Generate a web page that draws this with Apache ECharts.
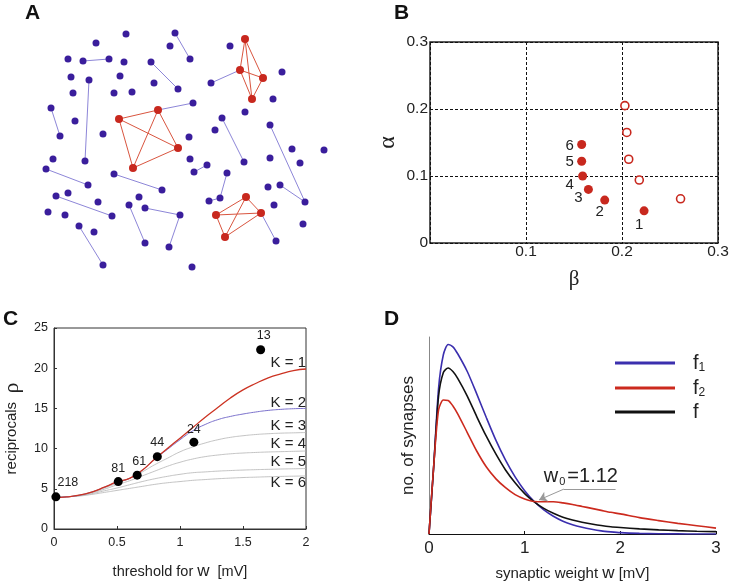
<!DOCTYPE html>
<html>
<head>
<meta charset="utf-8">
<script src="https://cdn.jsdelivr.net/npm/echarts@6/dist/echarts.min.js"></script>
<style>
  html, body { margin: 0; padding: 0; background: #fff; }
  #main { width: 734px; height: 584px; }
</style>
</head>
<body>
<div id="main"></div>
<script>
// ---- A: network (node positions in panel units) ----
var blueNodes = [
  [126,34],[175,33],[96,43],[170,46],[230,46],[68,59],[83,61],[109,59],[124,62],[151,62],
  [190,59],[71,77],[89,80],[120,76],[154,83],[178,89],[211,83],[282,72],[73,93],[114,93],
  [132,92],[193,103],[273,99],[51,108],[245,112],[75,121],[222,118],[270,125],[60,136],[103,134],
  [189,137],[215,130],[292,149],[324,150],[53,159],[85,161],[190,159],[207,165],[194,172],[244,162],
  [270,158],[300,163],[46,169],[114,174],[227,173],[88,185],[162,190],[268,187],[280,185],[56,196],
  [68,193],[98,202],[139,197],[209,201],[220,198],[305,202],[274,205],[129,205],[145,208],[48,212],
  [65,215],[112,216],[180,215],[303,224],[79,226],[94,232],[145,243],[169,247],[276,241],[103,265],
  [192,267]
];
var redNodes = [
  [245,39],[240,70],[263,78],[252,99],
  [119,119],[158,110],[178,148],[133,168],
  [246,197],[216,215],[261,213],[225,237]
];
var blueLinks = [
  ['b1','b10'],['b6','b7'],['b9','b15'],['b12','b35'],['b16','r1'],['r5','b21'],
  ['b23','b28'],['b26','b39'],['b27','b55'],['b48','b55'],['b42','b45'],['b43','b46'],
  ['b38','b37'],['b44','b54'],['b53','b54'],['b49','b61'],['b58','b62'],['b62','b67'],
  ['b57','b66'],['b64','b69'],['r10','b68']
];
var redLinks = [
  ['r0','r1'],['r0','r2'],['r0','r3'],['r1','r2'],['r1','r3'],['r2','r3'],
  ['r4','r5'],['r4','r6'],['r4','r7'],['r5','r6'],['r5','r7'],['r6','r7'],
  ['r8','r9'],['r8','r10'],['r8','r11'],['r9','r10'],['r9','r11'],['r10','r11']
];

// ---- B ----
var betaFilled  = [0.223, 0.182, 0.165, 0.159, 0.158, 0.158];
var alphaFilled = [0.048, 0.064, 0.080, 0.100, 0.122, 0.147];
var filledLabels = ['1', '2', '3', '4', '5', '6'];
var betaOpen  = [0.261, 0.218, 0.207, 0.205, 0.203];
var alphaOpen = [0.066, 0.094, 0.125, 0.165, 0.205];

// ---- C ----
var thrX = [0,0.1,0.2,0.3,0.4,0.5,0.6,0.7,0.8,0.9,1.0,1.1,1.2,1.3,1.4,1.5,1.6,1.7,1.8,1.9,2.0];
var rhoK1 = [3.9,4.0,4.2,4.6,5.2,5.85,6.3,7.3,8.7,10.0,11.3,12.6,13.9,15.1,16.3,17.3,18.1,18.8,19.3,19.7,19.9];
var rhoK2 = [3.9,4.0,4.2,4.6,5.2,5.85,6.3,7.3,8.7,9.9,11.1,12.2,13.0,13.6,14.0,14.3,14.55,14.75,14.88,14.96,15.0];
var rhoK3 = [3.9,4.0,4.2,4.6,5.1,5.7,6.3,7.1,8.0,8.8,9.6,10.2,10.7,11.1,11.4,11.6,11.75,11.85,11.92,11.96,12.0];
var rhoK4 = [3.9,4.0,4.15,4.5,4.95,5.5,6.0,6.6,7.2,7.8,8.3,8.7,9.0,9.2,9.35,9.45,9.52,9.58,9.62,9.66,9.7];
var rhoK5 = [3.9,4.0,4.15,4.4,4.75,5.1,5.5,5.9,6.25,6.55,6.8,7.0,7.1,7.2,7.27,7.33,7.38,7.42,7.46,7.49,7.52];
var rhoK6 = [3.9,4.0,4.1,4.3,4.55,4.8,5.05,5.3,5.55,5.75,5.9,6.05,6.15,6.25,6.33,6.4,6.45,6.5,6.54,6.57,6.6];
var kLabels = ['K = 1', 'K = 2', 'K = 3', 'K = 4', 'K = 5', 'K = 6'];
var obsX     = [0.015, 0.51, 0.66, 0.82, 1.11, 1.64];
var obsRho   = [4.0, 5.9, 6.7, 9.0, 10.8, 22.3];
var obsCount = ['218', '81', '61', '44', '24', '13'];

// ---- D ----
var wX = [0,0.05,0.1,0.15,0.2,0.25,0.3,0.4,0.5,0.6,0.7,0.8,0.9,1.0,1.1,1.2,1.3,1.4,1.5,1.6,1.7,1.8,1.9,2.0,2.2,2.4,2.6,2.8,3.0];
var f1 = [0,35,74,91,96.2,95,91.5,82.5,71,59,47.5,37.5,29,22,16.5,12.2,9,6.5,4.7,3.4,2.4,1.6,1.1,0.7,0.3,0.1,0.05,0,0];
var f2 = [0,35,63,68,67.8,65,61,51.5,42,34,28,23.5,20,17.8,16.5,16.4,16.4,15.8,15.0,14.0,13.0,12.0,11.0,10.2,8.3,6.8,5.4,4.2,3.0];
var fAll = [0,35,70,82,84.3,82.5,79,70,59.5,49.5,40.5,32.5,26,20.5,16.3,13,10.5,8.5,7.1,6,5.1,4.3,3.7,3.3,2.6,2.1,1.7,1.4,1.2];

function pairs(xs, ys) {
  return xs.map(function (x, i) { return [x, ys[i]]; });
}

var SANS = '"Liberation Sans", Arial, sans-serif';
var SERIF = '"Liberation Serif", "DejaVu Serif", serif';
var RED = '#c8281e';
var BLUE = '#3a1e9c';

// graph nodes/links
var gNodes = [];
blueNodes.forEach(function (p, i) {
  gNodes.push({ name: 'b' + i, value: p, symbolSize: 7, itemStyle: { color: BLUE } });
});
redNodes.forEach(function (p, i) {
  gNodes.push({ name: 'r' + i, value: p, symbolSize: 8, itemStyle: { color: RED } });
});
var gLinks = [];
blueLinks.forEach(function (l) {
  gLinks.push({ source: l[0], target: l[1], lineStyle: { color: '#8d86d8', width: 1, opacity: 1 } });
});
redLinks.forEach(function (l) {
  gLinks.push({ source: l[0], target: l[1], lineStyle: { color: '#d9553f', width: 1, opacity: 1 } });
});

// style-only offsets for labels
var bLabelOffset = [[-5,14],[-5,12],[-10,8],[-13,9],[-12,1],[-12,1]];
var cCountOffset = [[12,-14],[0,-13],[2,-14],[0,-14],[0,-13],[3,-14]];
var kLabelDy = [-6,-6,-7,-7,-7,7];

var kSeries = [rhoK6, rhoK5, rhoK4, rhoK3, rhoK2, rhoK1];
var kColors = ['#b4b4b4', '#b4b4b4', '#b4b4b4', '#b4b4b4', '#7a70cc', '#cc3322'];
var kWidths = [0.8, 0.8, 0.8, 0.8, 1, 1.3];

var chart = echarts.init(document.getElementById('main'));

var series = [
  {
    type: 'graph',
    coordinateSystem: 'cartesian2d',
    xAxisIndex: 0, yAxisIndex: 0,
    layout: 'none',
    symbol: 'circle',
    data: gNodes,
    links: gLinks,
    z: 2
  },
  {
    type: 'scatter', xAxisIndex: 1, yAxisIndex: 1,
    symbolSize: 9,
    itemStyle: { color: RED, opacity: 1 },
    data: betaFilled.map(function (b, i) {
      return {
        value: [b, alphaFilled[i]],
        label: {
          show: true, position: 'inside', offset: bLabelOffset[i],
          formatter: filledLabels[i], color: '#222', fontSize: 15, fontFamily: SANS
        }
      };
    })
  },
  {
    type: 'scatter', xAxisIndex: 1, yAxisIndex: 1,
    symbolSize: 8,
    itemStyle: { color: '#fff', borderColor: RED, borderWidth: 1.6, opacity: 1 },
    data: pairs(betaOpen, alphaOpen)
  }
];

kSeries.forEach(function (ys, idx) {
  var k = 5 - idx;
  series.push({
    type: 'line', xAxisIndex: 2, yAxisIndex: 2,
    data: pairs(thrX, ys),
    smooth: true, showSymbol: false,
    lineStyle: { color: kColors[idx], width: kWidths[idx] },
    z: 2 + idx,
    markPoint: {
      symbol: 'circle', symbolSize: 0,
      data: [{
        coord: [thrX[thrX.length - 1], ys[ys.length - 1]],
        label: {
          show: true, position: 'inside', align: 'right', verticalAlign: 'middle',
          offset: [0, kLabelDy[k]], formatter: kLabels[k],
          color: '#222', fontSize: 15, fontFamily: SANS
        }
      }]
    }
  });
});

series.push({
  type: 'scatter', xAxisIndex: 2, yAxisIndex: 2,
  symbolSize: 9, z: 10,
  itemStyle: { color: '#000', opacity: 1 },
  data: obsX.map(function (x, i) {
    return {
      value: [x, obsRho[i]],
      label: {
        show: true, position: 'inside', offset: cCountOffset[i],
        formatter: obsCount[i], color: '#222', fontSize: 12.5, fontFamily: SANS
      }
    };
  })
});

series.push(
  {
    name: 'f1', type: 'line', xAxisIndex: 3, yAxisIndex: 3,
    data: pairs(wX, f1), smooth: 0.25, showSymbol: false,
    lineStyle: { color: '#3b2fae', width: 1.6 }, itemStyle: { color: '#3b2fae' }
  },
  {
    name: 'f', type: 'line', xAxisIndex: 3, yAxisIndex: 3,
    data: pairs(wX, fAll), smooth: 0.25, showSymbol: false,
    lineStyle: { color: '#111', width: 1.6 }, itemStyle: { color: '#111' }
  },
  {
    name: 'f2', type: 'line', xAxisIndex: 3, yAxisIndex: 3,
    data: pairs(wX, f2), smooth: 0.25, showSymbol: false,
    lineStyle: { color: '#cc2a1e', width: 1.6 }, itemStyle: { color: '#cc2a1e' },
    markLine: {
      silent: true,
      label: { show: false },
      lineStyle: { color: '#999', width: 1, type: 'solid' },
      data: [
        [{ coord: [1.95, 22.8], symbol: 'none' }, { coord: [1.41, 22.8], symbol: 'none' }],
        [{ coord: [1.41, 22.8], symbol: 'none' }, { coord: [1.15, 17.3], symbol: 'arrow', symbolSize: 8 }]
      ]
    },
    markPoint: {
      symbol: 'circle', symbolSize: 0,
      data: [{
        coord: [1.2, 29],
        label: {
          show: true, position: 'right', distance: 0,
          formatter: '{m|w}{s|0}{m|=1.12}',
          rich: {
            m: { fontSize: 20, fontFamily: SANS, color: '#222' },
            s: { fontSize: 11, fontFamily: SANS, color: '#222', padding: [10, 2, 0, 1] }
          }
        }
      }]
    }
  }
);

chart.setOption({
  animation: false,
  backgroundColor: '#fff',
  textStyle: { fontFamily: SANS },
  graphic: [
    { type: 'text', left: 25, top: 3, style: { text: 'A', font: 'bold 21px ' + SANS, fill: '#111' } },
    { type: 'text', left: 394, top: 3, style: { text: 'B', font: 'bold 21px ' + SANS, fill: '#111' } },
    { type: 'text', left: 3, top: 309, style: { text: 'C', font: 'bold 21px ' + SANS, fill: '#111' } },
    { type: 'text', left: 384, top: 309, style: { text: 'D', font: 'bold 21px ' + SANS, fill: '#111' } }
  ],
  legend: {
    data: ['f1', 'f2', 'f'],
    orient: 'vertical',
    left: 610, top: 347,
    icon: 'rect',
    itemWidth: 60, itemHeight: 3, itemGap: 3,
    formatter: function (name) {
      if (name === 'f1') return '{m|f}{s|1}';
      if (name === 'f2') return '{m|f}{s|2}';
      return '{m|f}';
    },
    textStyle: {
      rich: {
        m: { fontSize: 20, lineHeight: 22, color: '#222', fontFamily: SANS, padding: [0, 0, 0, 13] },
        s: { fontSize: 12, lineHeight: 22, color: '#222', fontFamily: SANS, padding: [10, 0, 0, 0] }
      }
    }
  },
  grid: [
    { left: 0, top: 0, width: 367, height: 280, show: false },
    { left: 430, top: 42, width: 288, height: 201, show: true, borderColor: '#222', borderWidth: 1.5, backgroundColor: 'transparent' },
    { left: 52, top: 328, width: 254, height: 201, show: true, borderColor: '#333', borderWidth: 1, backgroundColor: 'transparent' },
    { left: 429, top: 337, width: 287, height: 197, show: false }
  ],
  xAxis: [
    { gridIndex: 0, type: 'value', min: 0, max: 367, show: false },
    {
      gridIndex: 1, type: 'value', min: 0, max: 0.3, interval: 0.1,
      axisLine: { show: false }, axisTick: { show: false },
      splitLine: { show: true, lineStyle: { color: '#111', type: [3, 2], width: 1 } },
      axisLabel: { fontSize: 15.5, color: '#222', margin: 1, showMinLabel: false,
        formatter: function (v) { return v === 0 ? '0' : v.toFixed(1); } },
      name: 'β', nameLocation: 'middle', nameGap: 26,
      nameTextStyle: { fontFamily: SERIF, fontSize: 21, color: '#222' }
    },
    {
      gridIndex: 2, type: 'value', min: 0, max: 2, interval: 0.5,
      axisLine: { show: true, lineStyle: { color: '#333' } },
      axisTick: { show: true, inside: true, length: 3, lineStyle: { color: '#333' } },
      splitLine: { show: false },
      axisLabel: { fontSize: 12.5, color: '#222', margin: 7 },
      name: 'threshold for {w|w}  [mV]', nameLocation: 'middle', nameGap: 34,
      nameTextStyle: { fontSize: 14.5, color: '#222', rich: { w: { fontSize: 17, color: '#222' } } }
    },
    {
      gridIndex: 3, type: 'value', min: 0, max: 3, interval: 1,
      axisLine: { show: true, lineStyle: { color: '#111' } },
      axisTick: { show: true, inside: true, length: 3, lineStyle: { color: '#111' } },
      splitLine: { show: false },
      axisLabel: { fontSize: 17, color: '#222', margin: 6 },
      name: 'synaptic weight {w|w} [mV]', nameLocation: 'middle', nameGap: 31,
      nameTextStyle: { fontSize: 15, color: '#222', rich: { w: { fontSize: 17, color: '#222' } } }
    }
  ],
  yAxis: [
    { gridIndex: 0, type: 'value', min: 0, max: 280, inverse: true, show: false },
    {
      gridIndex: 1, type: 'value', min: 0, max: 0.3, interval: 0.1,
      axisLine: { show: false }, axisTick: { show: false },
      splitLine: { show: true, lineStyle: { color: '#111', type: [3, 2], width: 1 } },
      axisLabel: { fontSize: 15.5, color: '#222', margin: 2,
        formatter: function (v) { return v === 0 ? '0' : v.toFixed(1); } },
      name: 'α', nameLocation: 'middle', nameGap: 30, nameRotate: 90,
      nameTextStyle: { fontFamily: SERIF, fontSize: 24, color: '#222' }
    },
    {
      gridIndex: 2, type: 'value', min: 0, max: 25, interval: 5,
      axisLine: { show: true, lineStyle: { color: '#333' } },
      axisTick: { show: true, inside: true, length: 3, lineStyle: { color: '#333' } },
      splitLine: { show: false },
      axisLabel: { fontSize: 12.5, color: '#222', margin: 6 },
      name: 'reciprocals  {g|ρ}', nameLocation: 'middle', nameGap: 31,
      nameTextStyle: { fontSize: 15, color: '#222', rich: { g: { fontSize: 22, fontFamily: SERIF, color: '#222' } } }
    },
    {
      gridIndex: 3, type: 'value', min: 0, max: 100,
      axisLine: { show: true, lineStyle: { color: '#888' } },
      axisTick: { show: false }, axisLabel: { show: false },
      splitLine: { show: false },
      name: 'no. of synapses', nameLocation: 'middle', nameGap: 12,
      nameTextStyle: { fontSize: 17, color: '#222' }
    }
  ],
  series: series
});
</script>
</body>
</html>
